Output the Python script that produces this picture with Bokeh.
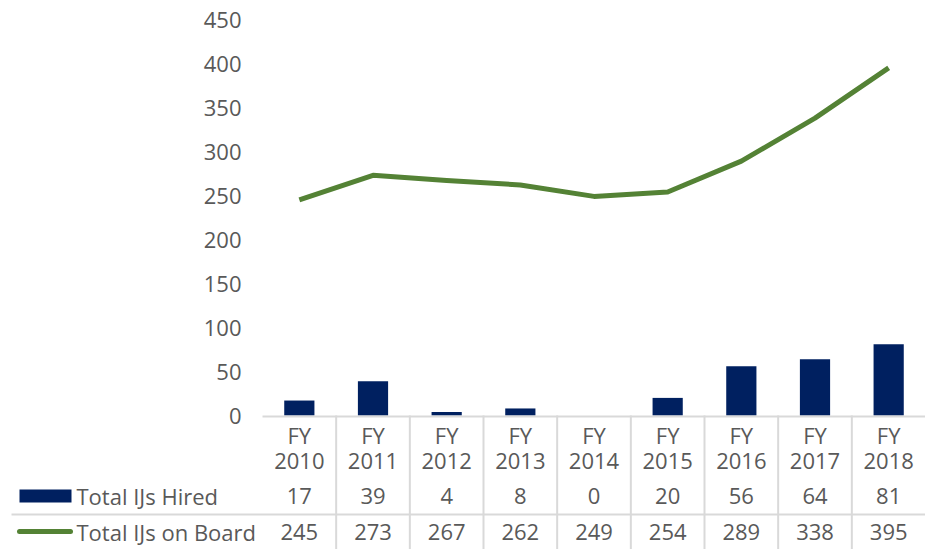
from bokeh.plotting import figure
from bokeh.models import Range1d, ColumnDataSource
from bokeh.core.properties import value
from bokeh.embed import file_html
from bokeh.resources import INLINE

years = ["2010", "2011", "2012", "2013", "2014", "2015", "2016", "2017", "2018"]
fy_prefix = "FY"
hired = [17, 39, 4, 8, 0, 20, 56, 64, 81]
on_board = [245, 273, 267, 262, 249, 254, 289, 338, 395]
y_ticks = [0, 50, 100, 150, 200, 250, 300, 350, 400, 450]
series_names = ["Total IJs Hired", "Total IJs on Board"]

NAVY = "#002060"
GREEN = "#548235"
GRAY_TXT = "#595959"
GRID = "#d9d9d9"
FONT = "Open Sans"
FS = "22px"

W, H = 925, 549
LEFT = 262            # px from figure left to first category boundary
TOP = 19              # px from figure top to the 450 level
CHART_H = 396         # px for 0..450
n = len(years)
cat_px = (W - LEFT) / n
k = CHART_H / 450.0   # px per value unit
x0 = -LEFT / cat_px
y_top = 450 + TOP / k
y_bot = -(H - TOP - CHART_H) / k


def px(v):
    """figure-x pixel -> data x"""
    return x0 + v / cat_px


def below(v):
    """pixels below the baseline -> data y"""
    return -v / k


p = figure(width=W, height=H, x_range=Range1d(x0, n), y_range=Range1d(y_bot, y_top),
           output_backend="svg", toolbar_location=None, x_axis_location=None,
           y_axis_location=None, min_border=0)
p.outline_line_color = None
p.xgrid.visible = False
p.ygrid.visible = False

centers = [i + 0.5 for i in range(n)]
src = ColumnDataSource(dict(x=centers, hired=hired, board=on_board))
p.vbar(x="x", top="hired", width=0.41, source=src, fill_color=NAVY, line_color=None)
p.line(x="x", y="board", source=src, line_width=5, color=GREEN, line_join="round")

txt = dict(text_font=value(FONT), text_font_size=FS, text_color=GRAY_TXT,
           text_baseline="middle")

# value axis labels
p.text(x=[px(241)] * len(y_ticks), y=y_ticks, text=[str(v) for v in y_ticks],
       text_align="right", **txt)

# data table grid
p.segment(x0=[0], y0=[below(1)], x1=[n], y1=[below(1)], line_color=GRID, line_width=2)
p.segment(x0=[px(11)], y0=[below(99)], x1=[n], y1=[below(99)], line_color=GRID, line_width=2)
p.segment(x0=list(range(1, n)), y0=[0] * (n - 1), x1=list(range(1, n)),
          y1=[y_bot] * (n - 1), line_color=GRID, line_width=2)

# table text
p.text(x=centers, y=[below(19)] * n, text=[fy_prefix] * n, text_align="center", **txt)
p.text(x=centers, y=[below(45)] * n, text=years, text_align="center", **txt)
p.text(x=centers, y=[below(80)] * n, text=[str(v) for v in hired], text_align="center", **txt)
p.text(x=centers, y=[below(116)] * n, text=[str(v) for v in on_board], text_align="center", **txt)

# legend keys in table
p.quad(left=[px(19)], right=[px(71)], top=[below(74)], bottom=[below(87)],
       fill_color=NAVY, line_color=None)
p.segment(x0=[px(19)], y0=[below(116)], x1=[px(70)], y1=[below(116)], line_color=GREEN,
          line_width=5, line_cap="round")
p.text(x=[px(76), px(76)], y=[below(80), below(116)], text=series_names,
       text_align="left", **txt)

open("out.html", "w").write(file_html(p, INLINE))
